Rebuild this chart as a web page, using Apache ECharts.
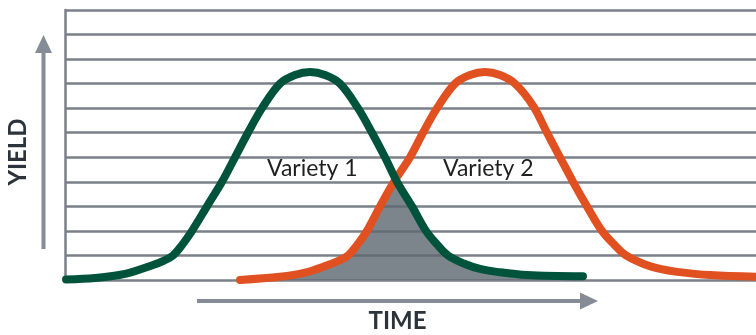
<!DOCTYPE html>
<html>
<head>
<meta charset="utf-8">
<script src="https://cdn.jsdelivr.net/npm/echarts@6/dist/echarts.min.js"></script>
<style>
html,body{margin:0;padding:0;background:#fff;}
#chart{width:756px;height:335px;}
</style>
</head>
<body>
<div id="chart"></div>
<script>
// Variety 1 (green) curve: time (0-100), yield (0-11)
const greenX = [0.15, 4.34, 8.68, 12.74, 14.33, 15.63, 16.93, 18.38, 20.55, 22.72, 24.60, 26.48, 28.51, 31.11, 33.29, 35.46, 37.63, 39.80, 42.40, 44.43, 46.31, 48.05, 50.22, 52.24, 53.84, 55.43, 57.89, 60.06, 62.52, 66.86, 74.96];
const greenY = [0.02, 0.08, 0.25, 0.61, 0.79, 1.0, 1.42, 2.0, 3.0, 4.0, 5.0, 6.0, 7.0, 8.0, 8.35, 8.47, 8.35, 8.0, 7.0, 6.0, 5.0, 4.0, 3.0, 2.0, 1.45, 1.0, 0.65, 0.45, 0.33, 0.20, 0.15];
// Variety 2 (orange) curve
const orangeX = [25.33, 31.11, 34.73, 38.06, 39.65, 40.96, 42.26, 43.70, 45.59, 47.61, 49.93, 51.81, 53.84, 56.44, 58.61, 60.78, 62.95, 65.12, 67.73, 69.75, 71.64, 73.52, 75.54, 77.71, 79.45, 81.19, 83.94, 86.11, 88.57, 93.34, 100];
const orangeY = [0.0, 0.13, 0.30, 0.61, 0.79, 1.0, 1.42, 2.0, 3.0, 4.0, 5.0, 6.0, 7.0, 8.0, 8.35, 8.47, 8.35, 8.0, 7.1, 6.0, 5.0, 4.0, 3.0, 2.0, 1.45, 1.0, 0.63, 0.45, 0.33, 0.20, 0.13];
// Shaded overlap region, top edge (left of crossing / right of crossing)
const overlapLeftX = [25.33, 31.11, 34.73, 38.06, 39.65, 40.96, 42.26, 43.70, 45.59, 47.61, 47.902];
const overlapLeftY = [0.0, 0.13, 0.30, 0.61, 0.79, 1.0, 1.42, 2.0, 3.0, 4.0, 4.1];
const overlapRightX = [47.902, 50.22, 52.24, 53.84, 55.43, 57.89, 60.06, 62.52, 66.86, 74.96];
const overlapRightY = [4.1, 3.0, 2.0, 1.45, 1.0, 0.65, 0.45, 0.33, 0.20, 0.15];
// Labels
const curveLabels = ["Variety 1", "Variety 2"];
const axisTitles = {x: "TIME", y: "YIELD"};

const pairs = (xs, ys) => xs.map((x, i) => [x, ys[i]]);

const chart = echarts.init(document.getElementById('chart'), null, {renderer: 'canvas'});
const gridColor = '#7a7f88';
const arrowColor = '#858c95';
const fillStyle = {color: '#5f6973', opacity: 0.82, origin: 'start'};
const SM = 0.35;

chart.setOption({
  animation: false,
  backgroundColor: '#ffffff',
  grid: {left: 65, right: 0, top: 10, bottom: 55},
  xAxis: {
    type: 'value', min: 0, max: 100,
    axisLine: {show: false}, axisTick: {show: false}, axisLabel: {show: false},
    splitLine: {show: false}
  },
  yAxis: {
    type: 'value', min: 0, max: 11, interval: 1,
    axisLine: {show: true, lineStyle: {color: gridColor, width: 2.5}},
    axisTick: {show: false}, axisLabel: {show: false},
    splitLine: {show: true, lineStyle: {color: gridColor, width: 2.5}}
  },
  series: [
    {
      type: 'line', name: 'overlapL', data: pairs(overlapLeftX, overlapLeftY),
      smooth: SM, symbol: 'none', z: 1,
      lineStyle: {width: 0, opacity: 0}, areaStyle: fillStyle
    },
    {
      type: 'line', name: 'overlapR', data: pairs(overlapRightX, overlapRightY),
      smooth: SM, symbol: 'none', z: 1,
      lineStyle: {width: 0, opacity: 0}, areaStyle: fillStyle
    },
    {
      type: 'line', name: curveLabels[1], data: pairs(orangeX, orangeY),
      smooth: SM, symbol: 'none', z: 3, clip: false,
      lineStyle: {color: '#e05020', width: 8, cap: 'round', join: 'round'}
    },
    {
      type: 'line', name: curveLabels[0], data: pairs(greenX, greenY),
      smooth: SM, symbol: 'none', z: 4, clip: false,
      lineStyle: {color: '#00533b', width: 8, cap: 'round', join: 'round'}
    }
  ],
  graphic: [
    {type: 'text', left: 267, top: 157, z: 10,
      style: {text: curveLabels[0], font: '23px Lato', fill: '#1f1f1f'}},
    {type: 'text', left: 443, top: 157, z: 10,
      style: {text: curveLabels[1], font: '23px Lato', fill: '#1f1f1f'}},
    // X arrow
    {type: 'line', z: 10, shape: {x1: 197, y1: 301, x2: 584, y2: 301},
      style: {stroke: arrowColor, lineWidth: 4}},
    {type: 'polygon', z: 10, shape: {points: [[580, 292.5], [598, 301], [580, 309.5]]},
      style: {fill: arrowColor}},
    // Y arrow
    {type: 'line', z: 10, shape: {x1: 43.5, y1: 249, x2: 43.5, y2: 50},
      style: {stroke: arrowColor, lineWidth: 4}},
    {type: 'polygon', z: 10, shape: {points: [[35, 53], [43.5, 35], [52, 53]]},
      style: {fill: arrowColor}},
    {type: 'text', z: 10, x: 397.5, y: 321,
      style: {text: axisTitles.x, font: 'bold 24px Lato', fill: '#2d333b', textAlign: 'center', textVerticalAlign: 'middle'}},
    {type: 'text', z: 10, x: 18.5, y: 152, rotation: Math.PI / 2,
      style: {text: axisTitles.y, font: 'bold 24px Lato', fill: '#2d333b', textAlign: 'center', textVerticalAlign: 'middle'}}
  ]
});
</script>
</body>
</html>
